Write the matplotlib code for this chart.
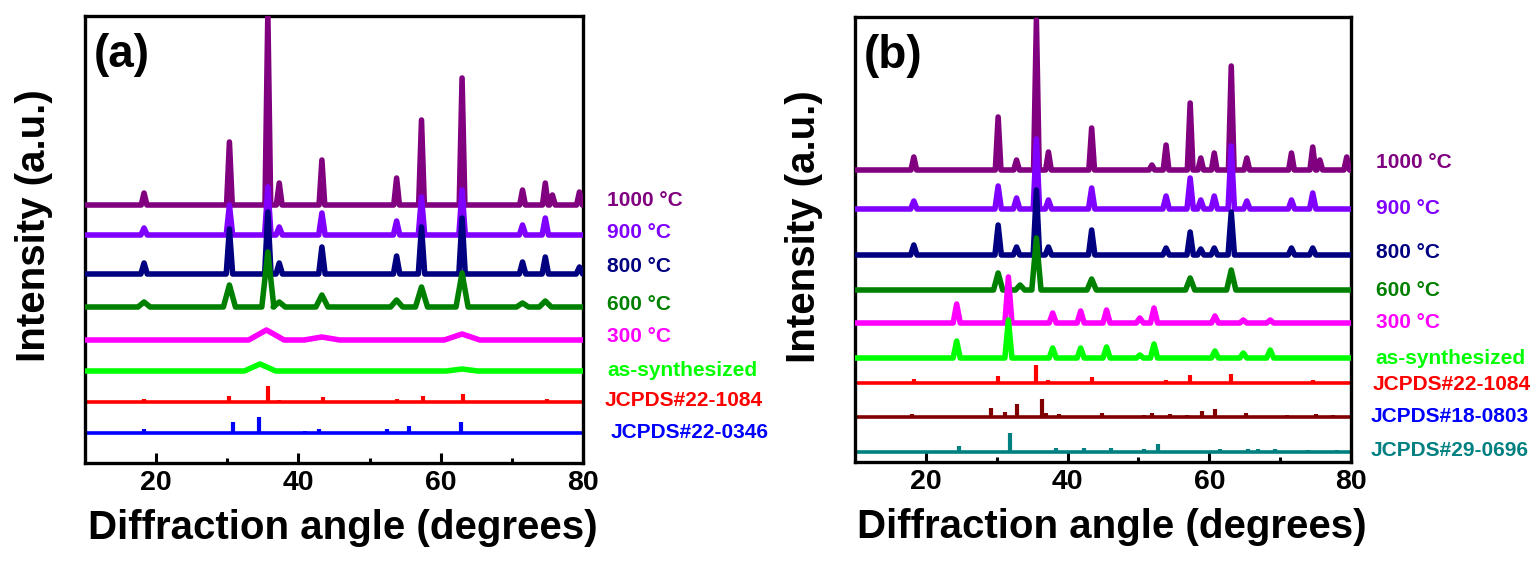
import matplotlib
matplotlib.use("Agg")
import matplotlib.pyplot as plt
from matplotlib.transforms import blended_transform_factory
from matplotlib.ticker import FixedLocator

plt.rcParams['font.family'] = ['Liberation Sans', 'DejaVu Sans']
plt.rcParams['font.weight'] = 'bold'

XLIM = (10, 80)

# ---------------- Panel (a) data ----------------
a_names = ["1000 °C", "900 °C", "800 °C", "600 °C", "300 °C", "as-synthesized"]
a_offsets = [258, 228, 189, 156, 123, 92]
a_pos = [
    [18.3, 30.3, 35.7, 37.3, 43.3, 53.8, 57.3, 63.0, 71.5, 74.7, 75.7, 79.5],
    [18.3, 30.3, 35.7, 37.3, 43.3, 53.8, 57.3, 63.0, 71.5, 74.7],
    [18.3, 30.3, 35.7, 37.3, 43.3, 53.8, 57.3, 63.0, 71.5, 74.7, 79.5],
    [18.3, 30.3, 35.7, 37.3, 43.3, 53.8, 57.3, 63.0, 71.5, 74.7],
    [35.5, 43.3, 63.0],
    [34.6, 63.0],
]
a_hgt = [
    [12, 63, 192, 22, 45, 27, 85, 127, 15, 22, 10, 13],
    [7, 30, 48, 8, 22, 14, 38, 45, 10, 17],
    [11, 45, 62, 11, 27, 18, 47, 56, 12, 17, 7],
    [5, 22, 55, 5, 12, 7, 20, 34, 4, 6],
    [10, 3, 6],
    [7, 2],
]
a_wid = [0.4, 0.45, 0.45, 0.85, 2.5, 2.2]

a_ref_names = ["JCPDS#22-1084", "JCPDS#22-0346"]
a_ref_offsets = [61, 30]
a_ref_pos = [
    [18.3, 30.3, 35.7, 37.3, 43.4, 53.9, 57.5, 63.2, 74.9],
    [18.35, 30.8, 34.5, 40.9, 42.9, 52.5, 55.6, 62.8],
]
a_ref_hgt = [
    [3, 6, 16, 2, 5, 3, 6, 8, 3],
    [4, 11, 16, 2, 4, 4, 7, 11],
]

# ---------------- Panel (b) data ----------------
b_names = ["1000 °C", "900 °C", "800 °C", "600 °C", "300 °C", "as-synthesized"]
b_offsets = [292, 253, 207, 172, 139, 104]
b_pos = [
    [18.3, 30.2, 32.8, 35.6, 37.3, 43.4, 51.9, 53.9, 57.3, 58.8, 60.7, 63.1, 65.3, 71.6, 74.6, 75.6, 79.4],
    [18.3, 30.2, 32.8, 35.6, 37.3, 43.4, 53.9, 57.3, 58.8, 60.7, 63.1, 65.3, 71.6, 74.6],
    [18.3, 30.2, 32.8, 35.6, 37.3, 43.4, 53.9, 57.3, 58.8, 60.7, 63.1, 71.6, 74.6],
    [30.2, 33.3, 35.6, 43.4, 57.3, 63.1],
    [24.35, 31.65, 37.9, 41.85, 45.5, 50.2, 52.2, 60.8, 64.8, 68.6],
    [24.35, 31.65, 37.9, 41.85, 45.5, 50.2, 52.2, 60.8, 64.8, 68.6],
]
b_hgt = [
    [13, 53, 10, 150, 18, 42, 5, 25, 67, 12, 17, 104, 12, 17, 23, 10, 13],
    [8, 23, 11, 70, 9, 21, 13, 31, 9, 13, 63, 8, 9, 16],
    [10, 30, 8, 65, 8, 25, 7, 23, 6, 7, 43, 7, 7],
    [17, 5, 52, 11, 12, 20],
    [19, 46, 10, 12, 13, 5, 15, 7, 3, 3],
    [17, 38, 10, 10, 11, 3, 14, 7, 5, 8],
]
b_wid = [0.4, 0.45, 0.45, 0.65, 0.5, 0.5]

b_ref_names = ["JCPDS#22-1084", "JCPDS#18-0803", "JCPDS#29-0696"]
b_ref_offsets = [79, 45, 10]
b_ref_pos = [
    [18.3, 30.2, 35.6, 37.3, 43.4, 53.9, 57.3, 63.1, 74.7],
    [18.1, 29.2, 31.2, 32.9, 36.35, 37.0, 38.8, 44.8, 50.8, 51.9, 54.5, 56.8, 59.0, 60.8, 65.2, 70.9, 75.1, 77.4],
    [24.7, 31.9, 38.3, 42.3, 46.1, 50.8, 52.7, 61.5, 65.4, 66.9, 69.3, 74.0, 78.0],
]
b_ref_hgt = [
    [4, 7, 18, 3, 6, 3, 8, 9, 3],
    [3, 9, 5, 13, 18, 4, 3, 4, 2, 4, 3, 2, 6, 8, 4, 2, 3, 2],
    [6, 19, 4, 4, 4, 3, 8, 3, 3, 3, 3, 2, 2],
]

# ---------------- styles ----------------
curve_colors = ['#800080', '#8000FF', '#000080', '#008000', '#FF00FF', '#00FF00']
curve_label_colors = ['#800080', '#8000FF', '#000080', '#008000', '#FF00FF', '#00FF00']
a_ref_colors = ['#FF0000', '#0000FF']
a_ref_label_colors = ['#FF0000', '#0000FF']
b_ref_colors = ['#FF0000', '#800000', '#008080']
b_ref_label_colors = ['#FF0000', '#0000FF', '#008080']

a_label_y = [262, 230, 197, 159, 127, 93]
a_ref_label_y = [62, 30]
a_ref_label_x = [1.044, 1.056]
b_label_y = [299, 254, 209, 171, 139, 104]
b_ref_label_y = [77, 45, 12]
b_ref_label_x = [1.044, 1.04, 1.04]


def profile(pos, hgt, w, base):
    pts = sorted(zip(pos, hgt))
    xs = [XLIM[0]]
    ys = [base]
    for p, h in pts:
        xs += [p - w, p, p + w]
        ys += [base, base + h, base]
    xs.append(XLIM[1])
    ys.append(base)
    return xs, ys


fig = plt.figure(figsize=(15.39, 5.61), dpi=100)
ax_a = fig.add_axes([85 / 1539, 98 / 561, 498 / 1539, 447 / 561])
ax_b = fig.add_axes([855 / 1539, 99 / 561, 496 / 1539, 445 / 561])


def draw_panel(ax, ymax, names, offsets, pos, hgt, wid, label_y,
               ref_names, ref_offsets, ref_pos, ref_hgt, ref_colors, ref_label_colors,
               ref_label_y, ref_label_x, letter, label_x):
    tr = blended_transform_factory(ax.transAxes, ax.transData)
    for i in range(len(ref_names)):
        b = ref_offsets[i]
        ax.plot(XLIM, [b, b], color=ref_colors[i], lw=2.6, solid_capstyle='butt', zorder=2)
        ax.vlines(ref_pos[i], b, [b + h for h in ref_hgt[i]], color=ref_colors[i],
                  lw=3.0, zorder=2)
        ax.text(ref_label_x[i], ref_label_y[i], ref_names[i], transform=tr,
                color=ref_label_colors[i], fontsize=15, fontweight='bold',
                ha='left', va='center', clip_on=False)
    for i in range(len(names)):
        xs, ys = profile(pos[i], hgt[i], wid[i], offsets[i])
        ax.plot(xs, ys, color=curve_colors[i], lw=4.0, solid_joinstyle='round',
                solid_capstyle='butt', zorder=3 + i)
        ax.text(label_x, label_y[i], names[i], transform=tr, color=curve_label_colors[i],
                fontsize=15, fontweight='bold', ha='left', va='center', clip_on=False)
    ax.set_xlim(*XLIM)
    ax.set_ylim(0, ymax)
    ax.xaxis.set_major_locator(FixedLocator([20, 40, 60, 80]))
    ax.xaxis.set_minor_locator(FixedLocator([30, 50, 70]))
    ax.set_yticks([])
    ax.tick_params(axis='x', which='major', direction='in', length=7, width=2.2,
                   labelsize=20.5, pad=5)
    ax.tick_params(axis='x', which='minor', direction='in', length=3.5, width=2.2)
    for lab in ax.get_xticklabels():
        lab.set_fontweight('bold')
    for sp in ax.spines.values():
        sp.set_linewidth(2.4)
    ax.set_xlabel('Diffraction angle (degrees)', fontsize=29, fontweight='bold', va='center')
    ax.xaxis.set_label_coords(0.518, -0.145)
    ax.set_ylabel('Intensity (a.u.)', fontsize=29, fontweight='bold', va='center')
    ax.yaxis.set_label_coords(-0.102, 0.53)
    ax.text(0.018, 0.913, letter, transform=ax.transAxes, fontsize=33, fontweight='bold',
            ha='left', va='center')


draw_panel(ax_a, 447, a_names, a_offsets, a_pos, a_hgt, a_wid, a_label_y,
           a_ref_names, a_ref_offsets, a_ref_pos, a_ref_hgt, a_ref_colors, a_ref_label_colors,
           a_ref_label_y, a_ref_label_x, '(a)', 1.048)
draw_panel(ax_b, 445, b_names, b_offsets, b_pos, b_hgt, b_wid, b_label_y,
           b_ref_names, b_ref_offsets, b_ref_pos, b_ref_hgt, b_ref_colors, b_ref_label_colors,
           b_ref_label_y, b_ref_label_x, '(b)', 1.05)

fig.savefig('out.png', dpi=100)
